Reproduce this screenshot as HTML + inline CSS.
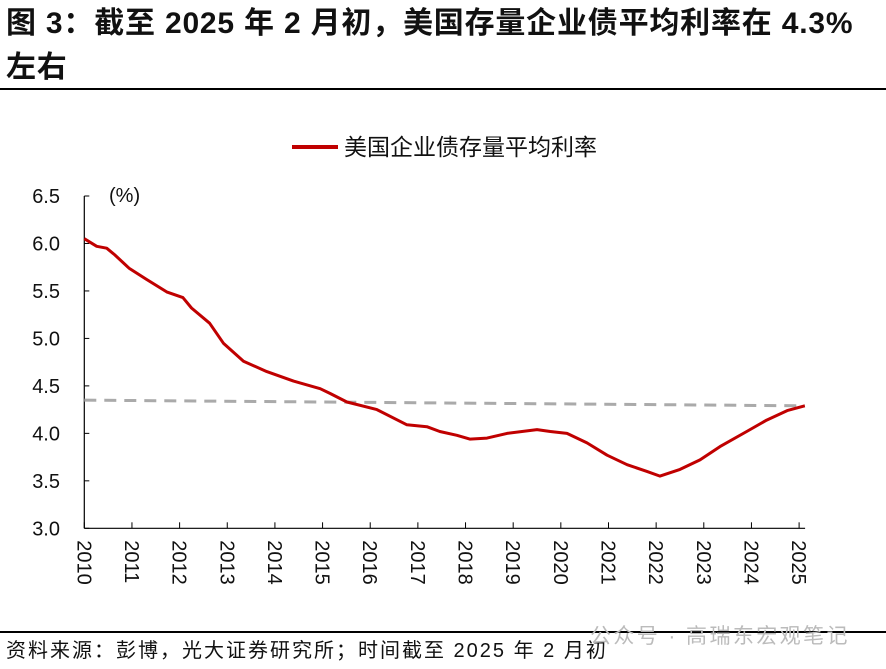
<!DOCTYPE html>
<html><head><meta charset="utf-8">
<style>
body{margin:0;width:886px;height:669px;background:#fff;overflow:hidden;font-family:"Liberation Sans","Noto Sans CJK SC",sans-serif;}
.title{position:absolute;left:6px;top:2px;font-size:30px;letter-spacing:0.8px;font-weight:bold;line-height:44px;color:#111;white-space:nowrap;font-family:"Liberation Sans","Noto Sans CJK SC",sans-serif;}
.rule{position:absolute;left:0;width:886px;height:2px;background:#000;}
.src{position:absolute;left:6px;top:634px;font-size:20px;letter-spacing:2px;color:#111;white-space:nowrap;}
.wm{position:absolute;left:590px;top:620px;font-size:21px;letter-spacing:2.4px;color:#bbb;white-space:nowrap;}
</style></head><body>
<div class="title">图 3：截至 2025 年 2 月初，美国存量企业债平均利率在 4.3%<br>左右</div>
<div class="rule" style="top:88px"></div>
<svg id="chart" width="886" height="669" style="position:absolute;left:0;top:0"></svg>
<div class="rule" style="top:631px;height:1.5px"></div>
<div class="src">资料来源：彭博，光大证券研究所；时间截至 2025 年 2 月初</div>
<div class="wm">公众号 · 高瑞东宏观笔记</div>
<script>
const yearTicks=[2010,2011,2012,2013,2014,2015,2016,2017,2018,2019,2020,2021,2022,2023,2024,2025];
const yTicks=[3.0,3.5,4.0,4.5,5.0,5.5,6.0,6.5];
const dates=[2010.0,2010.26,2010.47,2010.64,2010.94,2011.31,2011.73,2012.07,2012.25,2012.63,2012.92,2013.34,2013.83,2014.39,2014.95,2015.16,2015.51,2016.14,2016.77,2017.19,2017.46,2017.82,2018.09,2018.45,2018.87,2019.5,2019.78,2020.13,2020.55,2020.97,2021.39,2021.8,2022.08,2022.5,2022.92,2023.34,2023.9,2024.32,2024.75,2025.12];
const rates=[6.05,5.97,5.95,5.88,5.74,5.62,5.49,5.43,5.32,5.16,4.95,4.76,4.65,4.55,4.47,4.42,4.33,4.25,4.09,4.07,4.02,3.98,3.94,3.95,4.00,4.04,4.02,4.00,3.90,3.77,3.67,3.60,3.55,3.62,3.72,3.86,4.02,4.14,4.24,4.29];
const trendDates=[2010.0,2025.12];
const trendVals=[4.35,4.29];
const NS='http://www.w3.org/2000/svg';
const svg=document.getElementById('chart');
const X0=84.3,X1=799.1,Y0=528.3,Y1=196;
const xs=t=>X0+(t-2010)*(X1-X0)/15;
const ys=v=>Y0-(v-3)*(Y0-Y1)/3.5;
function mk(tag,attrs){const e=document.createElementNS(NS,tag);for(const k in attrs)e.setAttribute(k,attrs[k]);svg.appendChild(e);return e;}
let e;
e=mk('line',{x1:X0,y1:Y1,x2:X0,y2:Y0,stroke:'#000','stroke-width':1.2});


e=mk('line',{x1:X0,y1:Y0,x2:X1+6,y2:Y0,stroke:'#000','stroke-width':1.2});


yTicks.forEach(v=>{
 const y=ys(v);
 e=mk('line',{x1:X0,y1:y,x2:X0+5,y2:y,stroke:'#000','stroke-width':1});
 
 
 e=mk('text',{x:60,y:y+7,'text-anchor':'end','font-size':20,fill:'#111','font-family':'Liberation Sans, sans-serif'});
 e.textContent=v.toFixed(1);
 
 
});
yearTicks.forEach(t=>{
 const x=xs(t);
 e=mk('line',{x1:x,y1:Y0,x2:x,y2:Y0-6,stroke:'#000','stroke-width':1});
 
 
 e=mk('text',{x:0,y:0,'font-size':20,fill:'#111','font-family':'Liberation Sans, sans-serif',transform:`translate(${x-7},${Y0+12}) rotate(90)`});
 e.textContent=t;
 
 
});
e=mk('text',{x:109,y:202,'font-size':20,fill:'#111','font-family':'Liberation Sans, sans-serif'});
e.textContent='(%)';


e=mk('line',{x1:xs(trendDates[0]),y1:ys(trendVals[0]),x2:xs(trendDates[1]),y2:ys(trendVals[1]),stroke:'#aaaaaa','stroke-width':3,'stroke-dasharray':'12 8'});


e=mk('polyline',{points:dates.map((d,i)=>xs(d).toFixed(1)+','+ys(rates[i]).toFixed(1)).join(' '),fill:'none',stroke:'#c00000','stroke-width':3,'stroke-linejoin':'round'});


e=mk('line',{x1:292,y1:147,x2:338,y2:147,stroke:'#c00000','stroke-width':4});


e=mk('text',{x:344,y:155,'font-size':23,fill:'#111','font-family':'Liberation Sans, Noto Sans CJK SC, sans-serif'});
e.textContent='美国企业债存量平均利率';


</script>
</body></html>
